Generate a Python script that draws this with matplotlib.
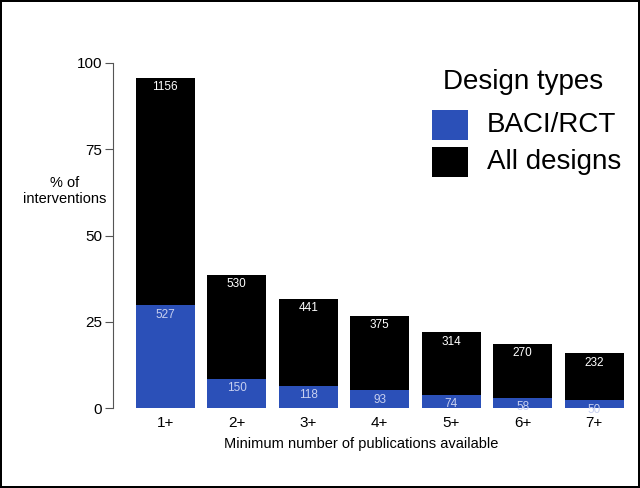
import numpy as np
import matplotlib
matplotlib.use("Agg")
import matplotlib.pyplot as plt
from matplotlib.patches import Rectangle

plt.rcParams['font.family'] = ['Liberation Sans', 'DejaVu Sans']

# data
categories = ['1+', '2+', '3+', '4+', '5+', '6+', '7+']
all_pct = [95.7, 38.6, 31.6, 26.7, 22.0, 18.6, 15.9]
baci_pct = [29.8, 8.4, 6.4, 5.2, 3.8, 2.9, 2.3]
all_counts = [1156, 530, 441, 375, 314, 270, 232]
baci_counts = [527, 150, 118, 93, 74, 58, 50]
legend_labels = ['BACI/RCT', 'All designs']

BLUE = '#2b50b8'
W, H = 640, 488


def fx(px):
    return px / W


def fy(py):
    return 1 - py / H


fig = plt.figure(figsize=(6.4, 4.88), dpi=100)
fig.patch.set_edgecolor('black')
fig.patch.set_linewidth(1.5)
ax = fig.add_axes([fx(113), fy(408), fx(630) - fx(113), fy(63) - fy(408)])

x = np.arange(len(categories))
width = 0.83
ax.bar(x, all_pct, width=width, color='black')
ax.bar(x, baci_pct, width=width, color=BLUE)

for xi, a, b, na, nb in zip(x, all_pct, baci_pct, all_counts, baci_counts):
    ax.text(xi, a - 1.0, str(na), ha='center', va='top', color='white', fontsize=8.5)
    ax.text(xi, b - 1.0, str(nb), ha='center', va='top', color='#c8d0f0', fontsize=8.5)

ax.set_xlim(-0.73, 6.5)
ax.set_ylim(0, 100)
ax.set_yticks([0, 25, 50, 75, 100])
ax.set_xticks(x)
ax.set_xticklabels(categories)
ax.tick_params(axis='y', length=6, width=0.8, color='#555555', labelsize=11, pad=2)
ax.tick_params(axis='x', length=0, labelsize=11, pad=6)
for s in ['top', 'right', 'bottom']:
    ax.spines[s].set_visible(False)
ax.spines['left'].set_color('#555555')
ax.spines['left'].set_linewidth(0.8)

ax.set_xlabel('Minimum number of publications available', fontsize=10.5)
ax.xaxis.set_label_coords(0.48, -0.085)
fig.text(fx(65), fy(191), '% of\ninterventions', ha='center', va='center', fontsize=10.5,
         linespacing=1.1)

# legend drawn by hand to match the reference placement
fig.text(fx(443), fy(82), 'Design types', ha='left', va='center', fontsize=20)
for i, (lab, col) in enumerate(zip(legend_labels, [BLUE, 'black'])):
    top = 110 + i * 37
    fig.add_artist(Rectangle((fx(432), fy(top + 30)), fx(36), 30 / H,
                             facecolor=col, edgecolor='none',
                             transform=fig.transFigure))
    fig.text(fx(487), fy(top + 15), lab, ha='left', va='center', fontsize=20)

fig.savefig('out.png', dpi=100)
